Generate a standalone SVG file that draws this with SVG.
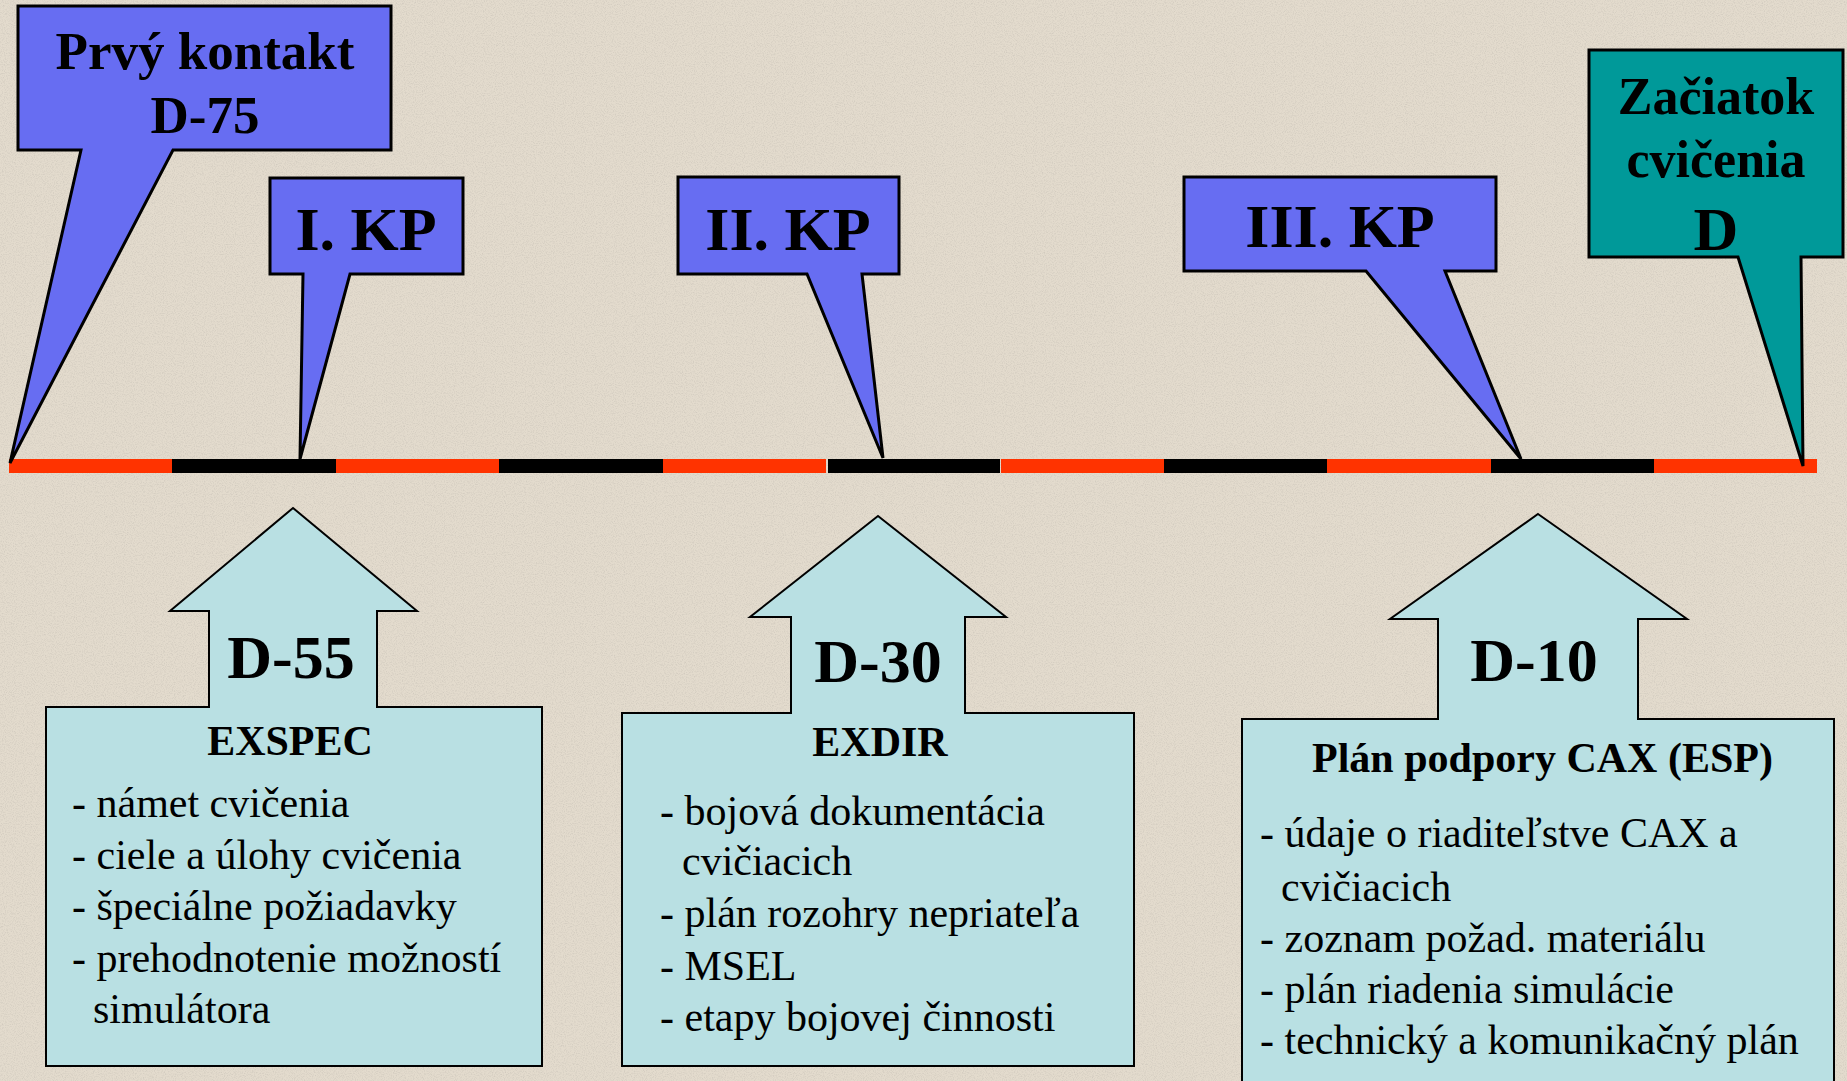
<svg xmlns="http://www.w3.org/2000/svg" width="1847" height="1081" viewBox="0 0 1847 1081">
<defs>
<filter id="noise" x="0" y="0" width="100%" height="100%">
<feTurbulence type="fractalNoise" baseFrequency="0.9" numOctaves="2" seed="3" result="t"/>
<feColorMatrix in="t" type="matrix" values="0 0 0 0 0.45  0 0 0 0 0.42  0 0 0 0 0.38  0 0 0 -2.2 1.25"/>
</filter>
</defs>
<style>
.callout{fill:#676DF2;stroke:#000;stroke-width:3;stroke-linejoin:miter}
.teal{fill:#009999;stroke:#000;stroke-width:3}
.house{fill:#B9E0E3;stroke:#000;stroke-width:2}
text{font-family:'Liberation Serif','Times New Roman',serif;fill:#000}
.big{font-weight:bold;text-anchor:middle}
.ttl{font-weight:bold;font-size:42px}
.lst{font-size:42px}
.red{fill:#FF3300}
.blk{fill:#000}
</style>
<rect width="1847" height="1081" fill="#E3DBCD"/>
<rect width="1847" height="1081" filter="url(#noise)" opacity="0.35"/>

<g id="connectors">
<rect class="red" x="9" y="459" width="163" height="14"/>
<rect class="blk" x="172" y="459" width="164" height="14"/>
<rect class="red" x="336" y="459" width="163" height="14"/>
<rect class="blk" x="499" y="459" width="164" height="14"/>
<rect class="red" x="663" y="459" width="163" height="14"/>
<rect class="blk" x="828" y="459" width="172" height="14"/>
<rect class="red" x="1001" y="459" width="163" height="14"/>
<rect class="blk" x="1164" y="459" width="163" height="14"/>
<rect class="red" x="1327" y="459" width="164" height="14"/>
<rect class="blk" x="1491" y="459" width="163" height="14"/>
<rect class="red" x="1654" y="459" width="163" height="14"/>
</g>

<g id="prvy-kontakt">
<path class="callout" d="M18,6 H391 V150 H173 L10,463 L81,150 H18 Z"/>
<text class="big" x="205" y="69" font-size="53">Prvý kontakt</text>
<text class="big" x="205" y="133" font-size="53">D-75</text>
</g>

<g id="kp1">
<path class="callout" d="M270,178 H463 V274 H350 L300,459 L303,274 H270 Z"/>
<text class="big" x="366" y="250" font-size="62">I. KP</text>
</g>

<g id="kp2">
<path class="callout" d="M678,177 H899 V274 H862 L883,458 L807,274 H678 Z"/>
<text class="big" x="788" y="250" font-size="62">II. KP</text>
</g>

<g id="kp3">
<path class="callout" d="M1184,177 H1496 V271 H1445 L1521,459 L1366,271 H1184 Z"/>
<text class="big" x="1340" y="247" font-size="62">III. KP</text>
</g>

<g id="zaciatok">
<path class="teal" d="M1589,50 H1843 V257 H1801 L1803,466 L1738,257 H1589 Z"/>
<text class="big" x="1716" y="114" font-size="52">Začiatok</text>
<text class="big" x="1716" y="177" font-size="52">cvičenia</text>
<text class="big" x="1716" y="250" font-size="62">D</text>
</g>

<g id="d55">
<path class="house" d="M293,508 L417,611 H377 V707 H542 V1066 H46 V707 H209 V611 H170 Z"/>
<text class="big" x="291" y="678" font-size="62">D-55</text>
<text class="ttl" x="290" y="755" text-anchor="middle">EXSPEC</text>
<text class="lst" x="72" y="817">- námet cvičenia</text>
<text class="lst" x="72" y="869">- ciele a úlohy cvičenia</text>
<text class="lst" x="72" y="920">- špeciálne požiadavky</text>
<text class="lst" x="72" y="972">- prehodnotenie možností</text>
<text class="lst" x="93" y="1023">simulátora</text>
</g>

<g id="d30">
<path class="house" d="M878,516 L1006,617 H965 V713 H1134 V1066 H622 V713 H791 V617 H750 Z"/>
<text class="big" x="878" y="682" font-size="62">D-30</text>
<text class="ttl" x="880" y="756" text-anchor="middle">EXDIR</text>
<text class="lst" x="660" y="825">- bojová dokumentácia</text>
<text class="lst" x="682" y="875">cvičiacich</text>
<text class="lst" x="660" y="927">- plán rozohry nepriateľa</text>
<text class="lst" x="660" y="980">- MSEL</text>
<text class="lst" x="660" y="1031">- etapy bojovej činnosti</text>
</g>

<g id="d10">
<path class="house" d="M1538,514 L1687,619 H1638 V719 H1834 V1090 H1242 V719 H1438 V619 H1390 Z"/>
<text class="big" x="1534" y="681" font-size="62">D-10</text>
<text class="ttl" x="1312" y="772">Plán podpory CAX (ESP)</text>
<text class="lst" x="1260" y="847">- údaje o riaditeľstve CAX a</text>
<text class="lst" x="1281" y="901">cvičiacich</text>
<text class="lst" x="1260" y="952">- zoznam požad. materiálu</text>
<text class="lst" x="1260" y="1003">- plán riadenia simulácie</text>
<text class="lst" x="1260" y="1054">- technický a komunikačný plán</text>
</g>
</svg>
